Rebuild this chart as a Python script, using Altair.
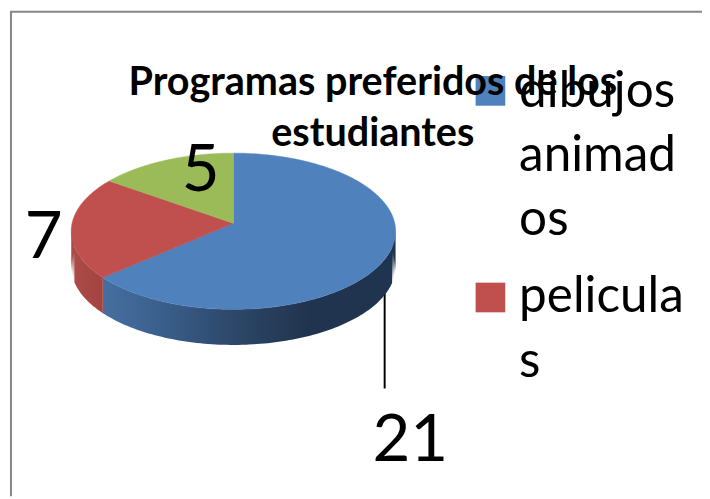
import math
import altair as alt
import pandas as pd

# Chart content
title_lines = ["Programas preferidos de los", "estudiantes"]
series_values = [21, 7, 5]
slice_colors = ["#4f81bd", "#c0504d", "#9bbb59"]
legend_lines = [["dibujos", "animad", "os"], ["pelicula", "s"]]

# Layout (page pixels)
W, H = 702, 491
OX, OY = 8, 8
CX, CY, RX, RY, K = 236, 223, 163.2, 78.2, 0.101
DEPTH = 36
FONT = "Lato"


def rim(theta):
    s, c = math.sin(theta), -math.cos(theta)
    d = 1 - K * c
    return CX + RX * s / d, CY + RY * c / d


x_enc = lambda f: alt.X(f, type="quantitative", axis=None,
                        scale=alt.Scale(domain=[OX, OX + W], nice=False, zero=False))
y_enc = lambda f: alt.Y(f, type="quantitative", axis=None,
                        scale=alt.Scale(domain=[OY + H, OY], nice=False, zero=False))


def px(x, y):
    return dict(x=alt.value(x - OX), y=alt.value(y - OY))


def text_mark(txt, x, y, size, bold=False, align="center"):
    return alt.Chart(pd.DataFrame({"t": [txt]})).mark_text(
        font=FONT, fontSize=size, fontWeight="bold" if bold else "normal",
        color="#000000", align=align, baseline="alphabetic",
    ).encode(text="t:N", **px(x, y))


total = sum(series_values)
bounds = [0]
for v in series_values:
    bounds.append(bounds[-1] + 2 * math.pi * v / total)

# Side wall
wall_gradients = [
    alt.Gradient(gradient="linear", x1=0, x2=1, y1=0, y2=0, stops=[
        alt.GradientStop(color="#466f9f", offset=0),
        alt.GradientStop(color="#3a5f8c", offset=0.2),
        alt.GradientStop(color="#2c4768", offset=0.45),
        alt.GradientStop(color="#21344f", offset=0.7),
        alt.GradientStop(color="#1f3450", offset=1),
    ]),
    alt.Gradient(gradient="linear", x1=0, x2=1, y1=0, y2=0, stops=[
        alt.GradientStop(color="#ac4d49", offset=0),
        alt.GradientStop(color="#a3423f", offset=1),
    ]),
]
layers = []

# Leader line (behind the pie wall)
layers.append(alt.Chart(pd.DataFrame({"a": [0]})).mark_rule(color="#000000", strokeWidth=2).encode(
    x=alt.value(389 - OX), y=alt.value(290 - OY), y2=alt.value(390 - OY)))

for idx, (a, b) in enumerate(zip(bounds[:2], bounds[1:3])):
    lo = max(a, math.pi * 0.47)
    hi = min(b, math.pi * 1.53)
    n = 120
    rows = []
    for i in range(n + 1):
        t = lo + (hi - lo) * i / n
        x, y = rim(t)
        rows.append({"x": x, "y": y, "y2": y + DEPTH})
    layers.append(
        alt.Chart(pd.DataFrame(rows)).mark_area(color=wall_gradients[idx], interpolate="linear").encode(
            x=x_enc("x"), y=y_enc("y"), y2="y2"
        )
    )

# Top face
for idx, color in enumerate(slice_colors):
    a, b = bounds[idx], bounds[idx + 1]
    n = 160
    rows = [{"i": -1, "x": CX, "y": CY}]
    for i in range(n + 1):
        x, y = rim(a + (b - a) * i / n)
        rows.append({"i": i, "x": x, "y": y})
    rows.append({"i": n + 1, "x": CX, "y": CY})
    layers.append(
        alt.Chart(pd.DataFrame(rows)).mark_line(fill=color, stroke=color, strokeWidth=0.5).encode(
            x=x_enc("x"), y=y_enc("y"), order="i:Q"
        )
    )

# Chart frame
frame = "#868686"
layers.append(alt.Chart(pd.DataFrame({"a": [0]})).mark_rule(color=frame, strokeWidth=2).encode(
    x=alt.value(11 - OX), y=alt.value(8 - OY + 1), y2=alt.value(H)))
layers.append(alt.Chart(pd.DataFrame({"a": [0]})).mark_rule(color=frame, strokeWidth=2).encode(
    x=alt.value(10 - OX), x2=alt.value(W), y=alt.value(9 - OY)))

# Legend swatches and texts
sw_y = [89, 298]
for i, y in enumerate(sw_y):
    layers.append(alt.Chart(pd.DataFrame({"a": [0]})).mark_square(
        size=900, color=slice_colors[i], opacity=1, filled=True
    ).encode(**px(496, y)))
legend_baselines = [[105, 170, 235], [313, 378]]
for lines, bases in zip(legend_lines, legend_baselines):
    for line, base in zip(lines, bases):
        layers.append(text_mark(line, 525, base, 50, align="left"))

# Title
layers.append(text_mark(title_lines[0], 377, 93, 40, bold=True))
layers.append(text_mark(title_lines[1], 377, 145, 40, bold=True))

# Value labels
label_pos = [(415, 463), (44, 258), (203, 190)]
for v, (x, y) in zip(series_values, label_pos):
    layers.append(text_mark(str(v), x, y, 66))

chart = alt.layer(*layers).properties(
    width=W, height=H, padding=0, autosize=alt.AutoSizeParams(type="none"), background="#ffffff"
).configure_view(stroke=None)

chart.save("out.html", embed_options={"renderer": "svg", "actions": False})
